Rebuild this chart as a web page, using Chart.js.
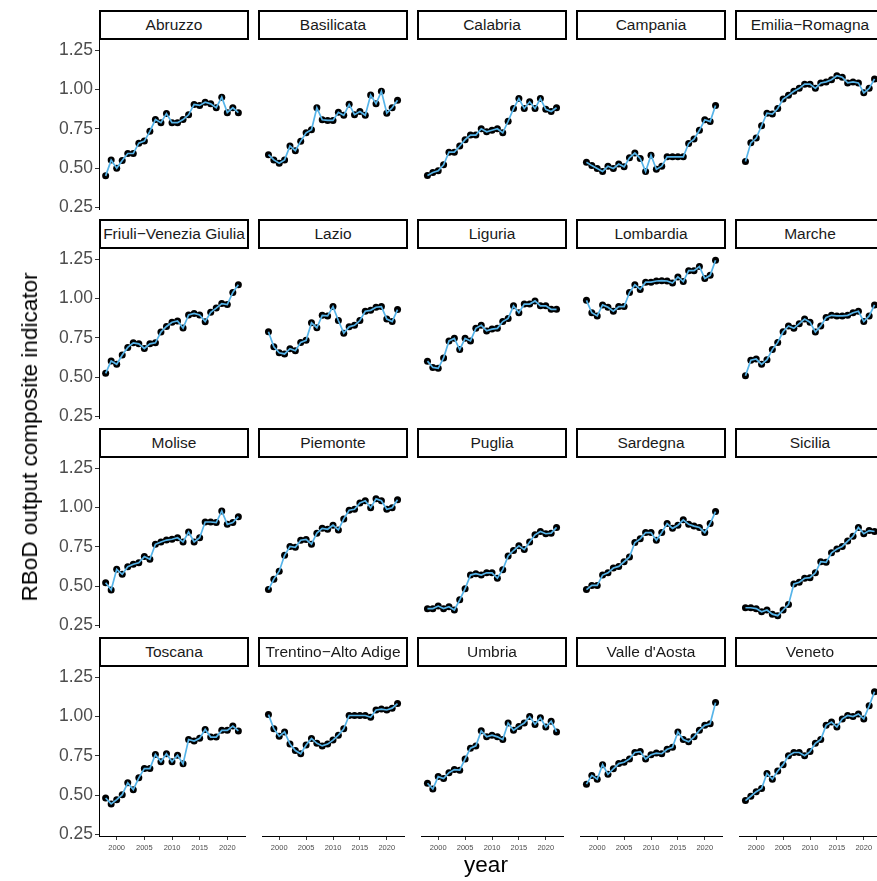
<!DOCTYPE html>
<html>
<head>
<meta charset="utf-8">
<script src="https://cdn.jsdelivr.net/npm/chart.js@4.4.0/dist/chart.umd.min.js"></script>
<style>
html,body{margin:0;padding:0;background:#fff;overflow:hidden;width:877px;height:881px;}
#wrap{position:relative;width:877px;height:881px;overflow:hidden;font-family:"Liberation Sans",Arial,sans-serif;}
.strip{position:absolute;box-sizing:border-box;border:2px solid #000;background:#fff;color:#1a1a1a;font-size:15.5px;display:flex;align-items:center;justify-content:center;white-space:nowrap;overflow:hidden;}
canvas{position:absolute;}
.ttl{position:absolute;color:#000;font-size:22.5px;white-space:nowrap;}
</style>
</head>
<body>
<div id="wrap"></div>
<script>
// ---------- data ----------
const years = [1998,1999,2000,2001,2002,2003,2004,2005,2006,2007,2008,2009,2010,2011,2012,2013,2014,2015,2016,2017,2018,2019,2020,2021,2022];
const regions = ["Abruzzo","Basilicata","Calabria","Campania","Emilia\u2212Romagna",
  "Friuli\u2212Venezia Giulia","Lazio","Liguria","Lombardia","Marche",
  "Molise","Piemonte","Puglia","Sardegna","Sicilia",
  "Toscana","Trentino\u2212Alto Adige","Umbria","Valle d'Aosta","Veneto"];

const abruzzo    = [0.452,0.552,0.500,0.550,0.594,0.594,0.660,0.673,0.735,0.810,0.790,0.848,0.790,0.790,0.810,0.840,0.906,0.900,0.920,0.910,0.885,0.952,0.854,0.885,0.854];
const basilicata = [0.577,0.542,0.520,0.542,0.635,0.604,0.667,0.723,0.744,0.890,0.810,0.806,0.806,0.860,0.840,0.913,0.844,0.865,0.840,0.975,0.917,1.000,0.854,0.890,0.940];
const calabria   = [0.438,0.458,0.469,0.510,0.594,0.594,0.635,0.677,0.708,0.708,0.750,0.730,0.740,0.750,0.723,0.800,0.885,0.952,0.885,0.930,0.885,0.952,0.880,0.865,0.890];
const campania   = [0.527,0.504,0.485,0.465,0.500,0.485,0.515,0.496,0.556,0.588,0.552,0.465,0.573,0.479,0.500,0.563,0.563,0.563,0.563,0.652,0.681,0.740,0.810,0.798,0.906];
const emilia     = [0.531,0.656,0.688,0.770,0.854,0.848,0.885,0.948,0.973,1.000,1.020,1.048,1.048,1.020,1.056,1.063,1.077,1.104,1.094,1.056,1.063,1.056,0.990,1.020,1.083];
const friuli     = [0.525,0.604,0.583,0.642,0.690,0.719,0.713,0.683,0.713,0.719,0.788,0.823,0.850,0.858,0.813,0.896,0.906,0.896,0.854,0.913,0.940,0.969,0.963,1.040,1.088];
const lazio      = [0.790,0.690,0.650,0.642,0.677,0.663,0.719,0.733,0.850,0.817,0.900,0.896,0.958,0.865,0.781,0.823,0.833,0.865,0.927,0.933,0.954,0.958,0.875,0.858,0.938];
const liguria    = [0.594,0.552,0.546,0.615,0.729,0.746,0.671,0.746,0.729,0.813,0.833,0.796,0.808,0.813,0.858,0.879,0.963,0.917,0.975,0.975,0.996,0.963,0.963,0.940,0.940];
const lombardia  = [1.000,0.917,0.896,0.969,0.954,0.927,0.958,0.958,1.052,1.104,1.073,1.121,1.121,1.129,1.131,1.129,1.115,1.156,1.125,1.198,1.198,1.225,1.146,1.167,1.267];
const marche     = [0.496,0.600,0.608,0.573,0.604,0.671,0.719,0.790,0.829,0.813,0.844,0.875,0.854,0.788,0.829,0.885,0.900,0.896,0.896,0.900,0.917,0.927,0.858,0.896,0.969];
const molise     = [0.523,0.477,0.608,0.576,0.625,0.640,0.650,0.689,0.672,0.767,0.782,0.794,0.799,0.809,0.782,0.845,0.782,0.809,0.909,0.909,0.905,0.979,0.894,0.905,0.943];
const piemonte   = [0.464,0.534,0.587,0.693,0.752,0.746,0.794,0.799,0.767,0.841,0.873,0.867,0.894,0.862,0.936,0.994,1.000,1.042,1.057,1.010,1.070,1.057,1.000,1.010,1.064];
const puglia     = [0.337,0.337,0.354,0.337,0.350,0.328,0.396,0.470,0.561,0.570,0.561,0.576,0.576,0.540,0.597,0.689,0.725,0.756,0.731,0.782,0.830,0.852,0.837,0.841,0.879];
const sardegna   = [0.464,0.492,0.492,0.561,0.576,0.608,0.619,0.650,0.682,0.778,0.803,0.845,0.845,0.794,0.845,0.905,0.873,0.894,0.930,0.900,0.888,0.879,0.845,0.905,0.985];
const sicilia    = [0.343,0.343,0.337,0.316,0.328,0.300,0.290,0.328,0.364,0.502,0.513,0.540,0.544,0.576,0.650,0.646,0.710,0.735,0.752,0.788,0.820,0.879,0.837,0.858,0.852];
const toscana    = [0.483,0.445,0.472,0.504,0.579,0.536,0.611,0.670,0.670,0.760,0.713,0.764,0.713,0.755,0.700,0.855,0.845,0.862,0.919,0.870,0.870,0.913,0.913,0.940,0.909];
const trentino   = [1.032,0.940,0.891,0.919,0.840,0.798,0.777,0.834,0.877,0.845,0.828,0.840,0.866,0.898,0.940,1.026,1.026,1.026,1.026,1.015,1.062,1.068,1.062,1.074,1.104];
const umbria     = [0.585,0.547,0.628,0.615,0.653,0.674,0.670,0.743,0.813,0.828,0.926,0.887,0.898,0.887,0.870,0.977,0.930,0.955,0.977,1.019,0.968,1.011,0.951,0.989,0.919];
const valle      = [0.579,0.636,0.611,0.706,0.643,0.679,0.713,0.721,0.743,0.785,0.791,0.743,0.770,0.781,0.777,0.806,0.819,0.919,0.870,0.855,0.887,0.930,0.962,0.972,1.110];
const veneto     = [0.472,0.500,0.530,0.551,0.649,0.611,0.664,0.706,0.764,0.785,0.785,0.764,0.791,0.845,0.870,0.962,0.983,0.951,1.004,1.026,1.019,1.036,1.004,1.089,1.181];

const series = [abruzzo,basilicata,calabria,campania,emilia,friuli,lazio,liguria,lombardia,marche,
                molise,piemonte,puglia,sardegna,sicilia,toscana,trentino,umbria,valle,veneto];

const yTicks = [0.25,0.50,0.75,1.00,1.25];
const xTicks = [2000,2005,2010,2015,2020];

// ---------- layout ----------
const FONT = "'Liberation Sans', Arial, sans-serif";
const LINE = "#56B4E9";
const PX0 = 99, PSTEP = 159, PW = 150;
const SY0 = 10, RSTEP = 209, STRIP_H = 30, PH = 169;
const XAXIS_H = 24, YPAD = 12, TPAD = 8;

const allVals = series.flat();
const lo = Math.min(...allVals), hi = Math.max(...allVals);
const YMIN = lo - (hi - lo) * 0.05, YMAX = hi + (hi - lo) * 0.05;
const XMIN = years[0] - (years[years.length-1]-years[0]) * 0.05;
const XMAX = years[years.length-1] + (years[years.length-1]-years[0]) * 0.05;

const wrap = document.getElementById('wrap');

regions.forEach((name, i) => {
  const r = Math.floor(i / 5), c = i % 5;
  const left = PX0 + c * PSTEP;
  const stripTop = SY0 + r * RSTEP;
  const plotTop = stripTop + STRIP_H;
  const showY = c === 0, showX = r === 3;

  const st = document.createElement('div');
  st.className = 'strip';
  st.style.left = left + 'px'; st.style.top = stripTop + 'px';
  st.style.width = PW + 'px'; st.style.height = STRIP_H + 'px';
  st.textContent = name;
  wrap.appendChild(st);

  const cv = document.createElement('canvas');
  const cLeft = showY ? 0 : left;
  const cW = showY ? left + PW : PW;
  const padB = (!showX && showY) ? YPAD : 0;
  const padT = showY ? TPAD : 0;
  const cH = padT + PH + (showX ? XAXIS_H : padB);
  cv.width = cW; cv.height = cH;
  cv.style.width = cW + 'px'; cv.style.height = cH + 'px';
  cv.style.left = cLeft + 'px'; cv.style.top = (plotTop - padT) + 'px';
  wrap.appendChild(cv);

  const pts = years.map((y, k) => ({x: y, y: series[i][k]}));

  const xScale = {
    type: 'linear', min: XMIN, max: XMAX, display: showX,
    afterBuildTicks: s => { s.ticks = xTicks.map(v => ({ value: v })); },
    grid: { display: true, drawOnChartArea: false, drawTicks: true, tickLength: 4, color: '#333333', lineWidth: 1 },
    border: { display: true, color: '#000', width: 1 },
    ticks: { font: { size: 7.5, family: FONT }, color: '#4d4d4d', padding: 3, maxRotation: 0, autoSkip: false, callback: v => String(v) }
  };
  if (showX) xScale.afterFit = s => { s.height = XAXIS_H; s.paddingLeft = 0; s.paddingRight = 0; };

  const yScale = {
    type: 'linear', min: YMIN, max: YMAX, display: showY,
    afterBuildTicks: s => { s.ticks = yTicks.map(v => ({ value: v })); },
    grid: { display: true, drawOnChartArea: false, drawTicks: true, tickLength: 4, color: '#333333', lineWidth: 1 },
    border: { display: true, color: '#000', width: 1 },
    ticks: { font: { size: 17.5, family: FONT }, color: '#4d4d4d', padding: 2, autoSkip: false, callback: v => Number(v).toFixed(2) }
  };
  if (showY) yScale.afterFit = s => { s.width = left; s.paddingTop = 0; s.paddingBottom = 0; };

  new Chart(cv.getContext('2d'), {
    type: 'line',
    data: { datasets: [
      { data: pts, borderColor: LINE, borderWidth: 1.7, pointRadius: 0, tension: 0, fill: false, order: 0 },
      { data: pts, showLine: false, pointRadius: 3.5, pointBackgroundColor: '#000', pointBorderWidth: 0, pointBorderColor: '#000', order: 1, clip: false }
    ]},
    options: {
      responsive: false, animation: false, events: [], devicePixelRatio: 1,
      layout: { padding: { left: 0, right: 0, top: padT, bottom: padB } },
      plugins: { legend: { display: false }, tooltip: { enabled: false } },
      scales: { x: xScale, y: yScale }
    }
  });
});

// axis titles
const yt = document.createElement('div');
yt.className = 'ttl';
yt.textContent = 'RBoD output composite indicator';
yt.style.left = '30px'; yt.style.top = '437px';
yt.style.transform = 'translate(-50%,-50%) rotate(-90deg)';
wrap.appendChild(yt);

const xt = document.createElement('div');
xt.className = 'ttl';
xt.textContent = 'year';
xt.style.left = '486px'; xt.style.top = '865px';
xt.style.transform = 'translate(-50%,-50%)';
wrap.appendChild(xt);
</script>
</body>
</html>
